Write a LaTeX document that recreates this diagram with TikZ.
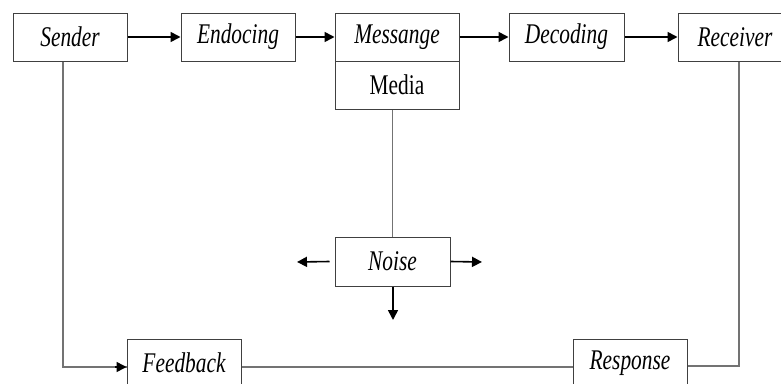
\documentclass[tikz,border=0pt]{standalone}
\usepackage{fontspec}
\setmainfont{Liberation Serif}[FakeStretch=0.75]
\usetikzlibrary{arrows.meta}
\begin{document}
\begin{tikzpicture}[x=1pt,y=-1pt,
  box/.style={draw=black!75, line width=1pt, minimum width=114pt, minimum height=48pt, inner sep=0pt,
    font=\fontsize{28.5}{30}\selectfont\itshape},
  flow/.style={line width=1.6pt, -{Triangle[length=10pt,width=10pt]}},
  plain/.style={draw=black!55, line width=1.1pt}]
\useasboundingbox (0,0) rectangle (781,383);
\clip (0,0) rectangle (781,383);
\node[box] (sender) at (70,37) {Sender};
\node[box] (enc) at (238,37) {Endocing};
\node[box, minimum width=124pt] (msg) at (397,37) {Messange};
\node[box, minimum width=124pt, font=\fontsize{28.5}{30}\selectfont\upshape] (media) at (397,85) {Media};
\node[box, minimum width=115pt] (dec) at (566.5,37) {Decoding};
\node[box] (rec) at (735,37) {Receiver};
\node[box, minimum width=115pt, minimum height=49pt] (noise) at (392.5,261.5) {Noise};
\node[box] (fb) at (184,363) {Feedback};
\node[box] (resp) at (630,363) {Response};
\coordinate (nl) at (297,262);
\coordinate (nr) at (482,262);
\coordinate (nd) at (393,320);
\draw[flow] (sender) -- (enc);
\draw[flow] (enc) -- (msg);
\draw[flow] (msg) -- (dec);
\draw[flow] (dec) -- (rec);
\draw[plain] (noise.north) -- (noise.north |- media.south);
\draw[flow] ([xshift=-5pt]noise.west) -- (nl);
\draw[flow] (noise.east) -- (nr);
\draw[flow] (noise.south -| nd) -- (nd);
\draw[plain] ([xshift=-7pt]sender.south) |- ([yshift=-4pt]fb.west);
\draw[flow] ([xshift=-12pt,yshift=-4pt]fb.west) -- ([yshift=-4pt]fb.west);
\draw[plain] ([yshift=-4pt]fb.east) -- ([yshift=-4pt]resp.west);
\draw[plain] ([yshift=-3pt]resp.east) -| ([xshift=4pt]rec.south);
\end{tikzpicture}
\end{document}
